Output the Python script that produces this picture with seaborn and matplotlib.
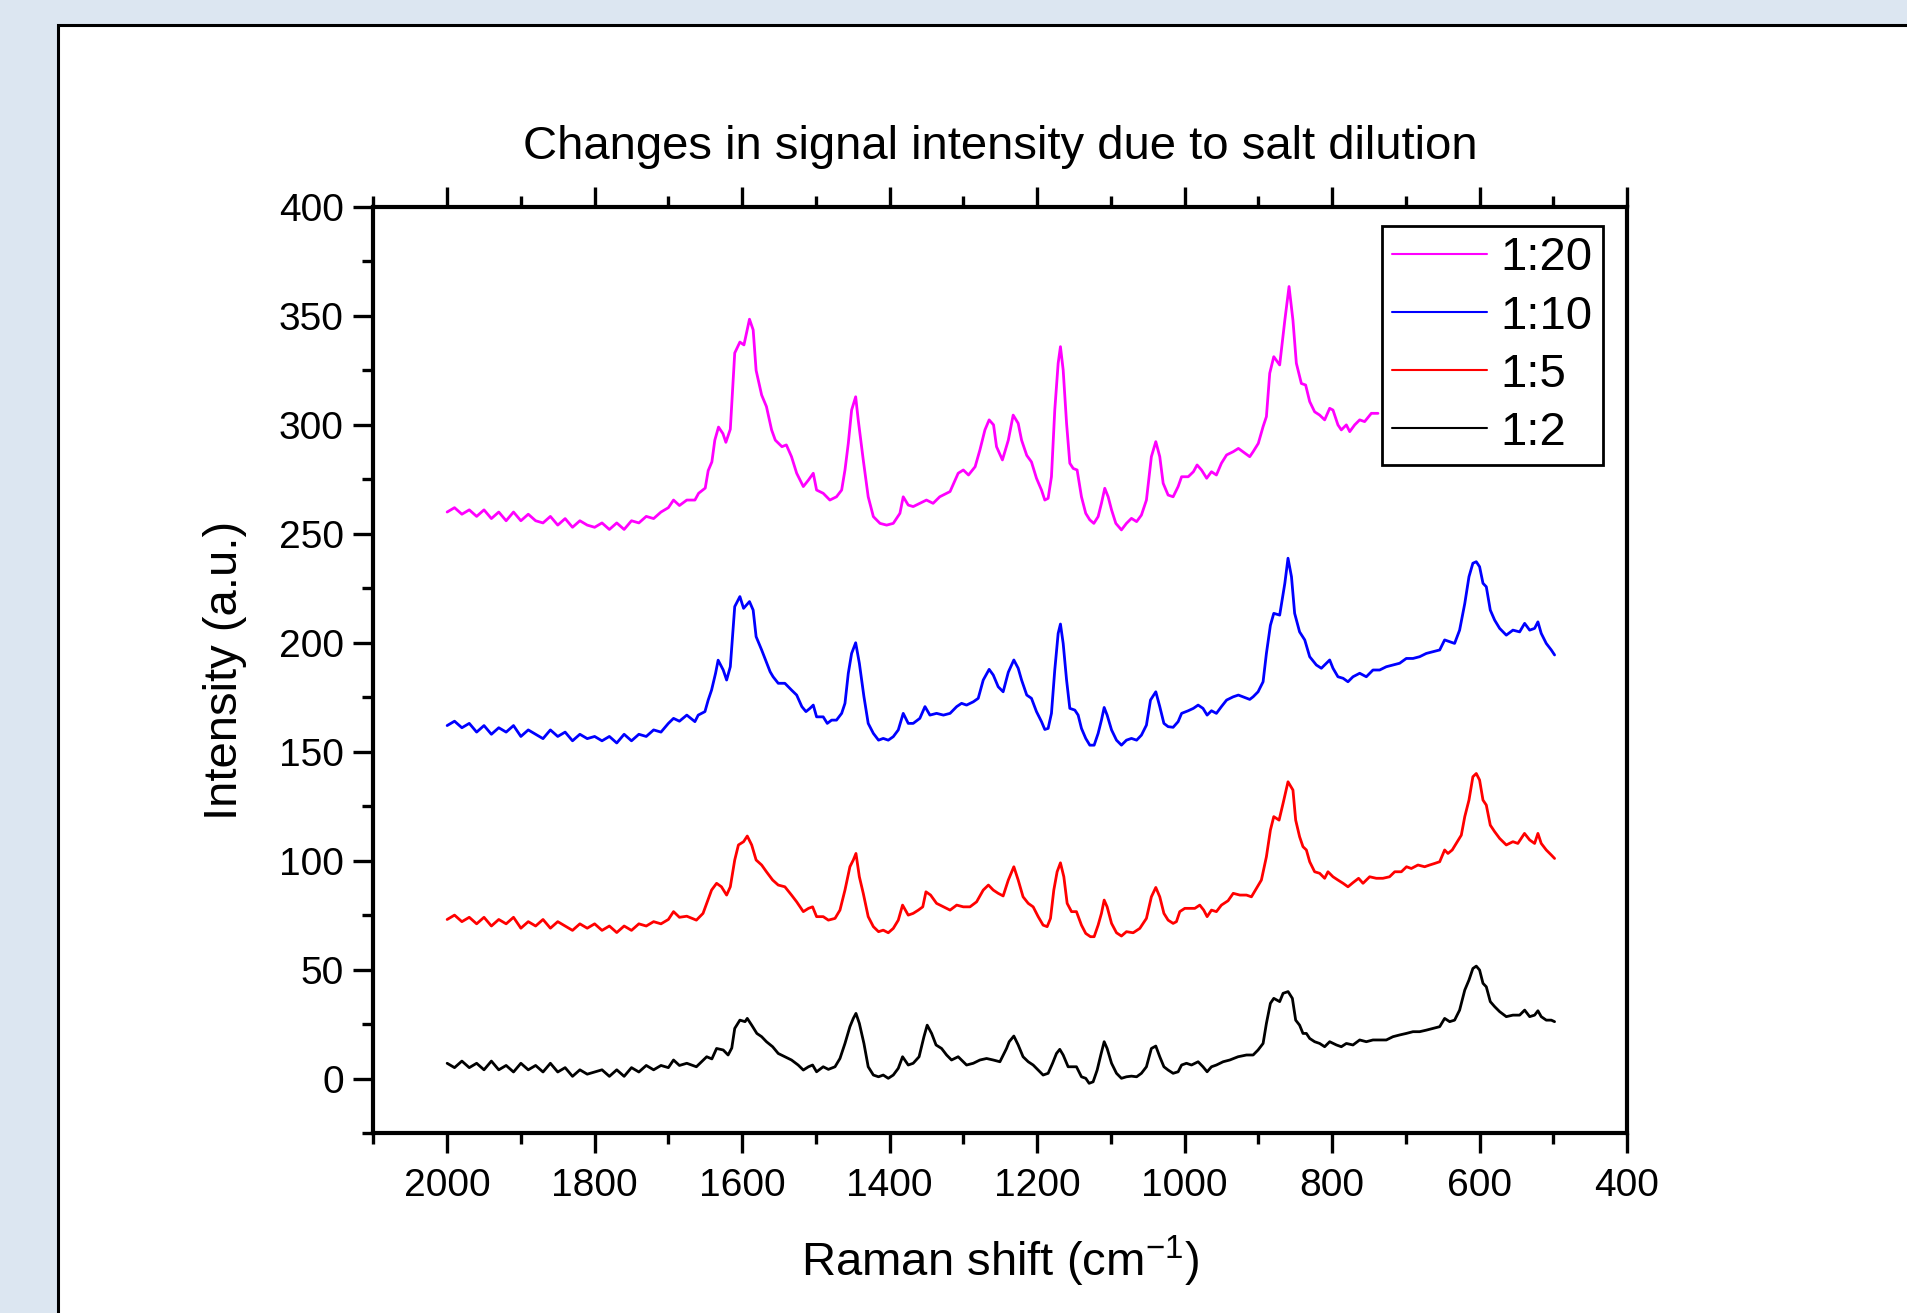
import numpy as np
import pandas as pd
import matplotlib
matplotlib.use('Agg')
import matplotlib.pyplot as plt
from matplotlib.patches import Rectangle
from matplotlib.ticker import MultipleLocator
import seaborn as sns

# Raman spectra: shift in cm-1, intensity in a.u.
base_shift = [2000, 1990, 1980, 1970, 1960, 1950, 1940, 1930, 1920, 1910, 1900,
              1890, 1880, 1870, 1860, 1850, 1840, 1830, 1820, 1810, 1800,
              1790, 1780, 1770, 1760, 1750, 1740, 1730, 1720, 1710, 1700]

shift_20 = base_shift + [
    1693, 1685, 1675, 1664, 1659, 1650, 1646, 1641, 1637, 1632, 1626, 1622, 1616, 1610, 1603,
    1597.5, 1590, 1585, 1581, 1573.5, 1567, 1560, 1555, 1546, 1540, 1533, 1526, 1517, 1510,
    1503.5, 1499, 1490, 1481, 1472, 1465, 1460.5, 1456, 1451.5, 1446, 1442.5, 1435.7, 1429,
    1422, 1413, 1404, 1395, 1386, 1381.5, 1374.7, 1368, 1359, 1350, 1341, 1332, 1318, 1307,
    1300, 1293, 1284, 1277.5, 1270.7, 1265, 1259, 1255, 1247, 1239, 1232.4, 1225.6, 1221,
    1214, 1207.6, 1200.8, 1194, 1189.5, 1185, 1180.5, 1176, 1171.4, 1168.3, 1164.6, 1160,
    1155.6, 1151, 1145.7, 1139.8, 1134, 1128.5, 1123, 1117.2, 1112.7, 1108.2, 1103.6, 1099,
    1093.2, 1085.6, 1078.8, 1072, 1065, 1058.5, 1051.7, 1045, 1039, 1033.6, 1029, 1022.3,
    1015.5, 1008.7, 1004, 995, 988, 983, 977, 970, 963.5, 956.8, 950, 943, 934, 927, 918,
    911.6, 907, 900, 893.5, 889, 884.5, 879, 871, 864, 858.3, 853, 848.4, 841.6, 835.8,
    830.3, 823.6, 816.8, 810, 803.2, 798.7, 792, 787.4, 780.6, 776, 769.3, 762.5, 755.8,
    746.7, 737.7]
int_20 = [260, 262, 259, 261, 258, 261, 257, 260, 256, 260, 256,
          259, 256, 255, 258, 254, 257, 253, 256, 254, 253,
          255, 252, 255, 252, 256, 255, 258, 257, 260, 262] + [
    265.5, 263, 265.5, 265.5, 268.6, 271, 279, 283, 293, 299, 296, 292, 298, 333, 338,
    336.7, 348.5, 343.6, 325, 313.7, 308.4, 297.7, 293, 290, 290.8, 285.4, 277.8, 271.7, 274.7,
    277.8, 270.1, 268.6, 265.5, 267, 270.1, 279.3, 291.5, 306.8, 312.9, 302.2, 283.9, 267,
    257.9, 254.8, 254, 254.8, 259.4, 267, 263.2, 262.5, 264, 265.5, 264, 267, 269.4, 277.8,
    279.3, 277, 280.8, 288.5, 297.7, 302.3, 300, 290, 283.9, 293, 304.5, 300.7, 293,
    286, 283, 275.5, 270.1, 265.5, 266.3, 276.2, 306.8, 328.3, 335.9, 325.2, 300.7,
    282.4, 280, 279.3, 267, 259.4, 256.4, 254.8, 257.9, 264, 270.9, 267, 261,
    254.8, 251.8, 254.8, 257.1, 255.6, 258.6, 265.5, 285.4, 292.3, 285.4, 273.2, 267.8,
    267, 271.7, 276.2, 276.2, 278.5, 281.6, 279.3, 275.5, 278.5, 277, 282.4, 286.2, 287.7, 289.2, 287,
    285.4, 287.7, 291.5, 299.2, 303.8, 323.7, 331.3, 327.5, 348.1, 363.5, 348, 328.3, 319, 318.3,
    310.7, 306, 304.5, 302.3, 307.6, 306.8, 300, 297.7, 300, 296.9, 300, 302.3, 301.5,
    305.3, 305.3]

shift_10 = base_shift + [
    1693, 1685, 1675, 1664, 1659.5, 1650.4, 1646, 1641.4, 1636, 1632.5, 1625.6, 1621, 1616,
    1610, 1603, 1598, 1590, 1585, 1581, 1573.5, 1569, 1562, 1558, 1551, 1542, 1533, 1526,
    1519, 1513.4, 1508, 1503.5, 1499, 1490, 1484.5, 1478.6, 1472, 1465, 1460.5, 1456, 1451.5,
    1446, 1441, 1434.8, 1429, 1422, 1415, 1408.6, 1401.8, 1395, 1388.2, 1381.5, 1374.7, 1368,
    1359, 1352, 1345.3, 1336.3, 1327, 1318, 1309, 1302.4, 1295.6, 1286.5, 1279.8, 1273, 1265,
    1259.4, 1252.7, 1246, 1239, 1231.5, 1225.6, 1221, 1214, 1207.6, 1200.8, 1194, 1189.5, 1185,
    1180.5, 1176, 1171.4, 1168.3, 1164.6, 1160, 1155.6, 1148.8, 1144.3, 1139.8, 1134, 1128.5,
    1122.6, 1117.2, 1112.7, 1109, 1105, 1099, 1092.3, 1085.6, 1078.8, 1072, 1065, 1058.5,
    1051.7, 1046.2, 1039, 1033.6, 1028, 1022.3, 1015.5, 1008.7, 1004, 995, 988, 981.6, 975,
    969.4, 963.5, 956.8, 950, 943, 934, 927, 918.4, 911.6, 907, 900.3, 893.5, 889, 883.6, 879,
    871, 864, 859.7, 855, 850.7, 844, 837, 830.3, 821.3, 814.5, 807.7, 803.2, 798.7, 792, 785,
    778.4, 771.6, 762.5, 753.5, 744.5, 735.4, 726.4, 717.4, 708.3, 699.3, 690.2, 681.2, 672.2,
    663.1, 654, 647.3, 640.5, 633.8, 627, 620, 614.3, 609, 604.4, 599.9, 595.3, 590.8, 585.4,
    579.5, 572.7, 563.7, 554.7, 545.6, 538.8, 532, 525.3, 520.8, 516.3, 509.5, 502.7, 498.2]
int_10 = [162, 164, 161, 163, 159, 162, 158, 161, 159, 162, 157,
          160, 158, 156, 160, 157, 159, 155, 158, 156, 157,
          155, 157, 154, 158, 155, 158, 157, 160, 159, 163] + [
    165.3, 164, 166.8, 163.8, 166.8, 168.4, 173.7, 178.3, 186, 192, 187.5, 182.9, 189,
    216.6, 221.2, 215.8, 218.9, 215, 202.8, 196.7, 192.8, 186.7, 184.4, 181.4, 181.4, 178.3, 176,
    170.7, 168.4, 169.9, 171.4, 166, 166, 163, 164.5, 164.5, 167.6, 172.2, 186, 195.1,
    200, 190.6, 175.3, 163, 158.4, 155.3, 156.1, 155.3, 156.9, 160, 167.6, 163, 163,
    165.3, 170.7, 166.8, 167.6, 166.8, 167.6, 170.7, 172.2, 171.4, 172.9, 174.5, 182.9, 187.8,
    185.2, 179.8, 177.5, 186.5, 192.1, 188.3, 182.9, 176, 174.5, 168.4, 163.8, 160.2, 160.7,
    167.6, 187.5, 204.3, 208.6, 199.7, 182.9, 169.9, 169.1, 166.8, 160.7, 156.1, 153,
    153, 158.4, 164.5, 170.3, 166.8, 160, 155.3, 153, 155.3, 156.1, 155.3, 157.6,
    162.2, 173.7, 177.5, 170.7, 163, 161.5, 161.2, 163.8, 167.6, 168.8, 169.9, 171.4, 169.9,
    166.8, 168.8, 167.6, 170.7, 173.7, 175.2, 176, 174.9, 174, 175.2, 177.5, 182.1, 195.1, 208, 213.5,
    212.7, 227.3, 238.8, 230.3, 213.5, 205, 201.3, 193.6, 189.8, 188.3, 190.6, 192.1, 188.3, 184.4, 183.7,
    182.1, 184.4, 186, 184.4, 187.5, 187.5, 189, 189.8, 190.6, 192.8, 192.8, 193.6, 195.1,
    195.9, 196.7, 201.3, 200.5, 199.7, 205.8, 218, 230.3, 236.5, 237.2, 234.9, 227.3, 225.7, 215,
    210.4, 206.6, 203.5, 205.8, 205, 208.9, 205.8, 206.6, 209.6, 204.3, 199.7, 196.7, 194.4]

shift_5 = base_shift + [
    1693, 1685, 1675, 1662, 1653, 1648, 1641.4, 1634.6, 1628, 1621, 1616, 1610, 1605, 1598,
    1593, 1587, 1581, 1573.5, 1567, 1558.6, 1551, 1542, 1533, 1526, 1517, 1510, 1504.4, 1499,
    1490, 1483, 1474, 1467.3, 1460.5, 1453.8, 1449.2, 1445.6, 1441, 1435.7, 1429, 1422, 1415,
    1408.6, 1401.8, 1395, 1388.2, 1382.4, 1374.7, 1368, 1361, 1355, 1350.7, 1344.4, 1336.3,
    1327, 1318, 1309, 1300, 1291, 1282, 1273, 1266, 1259.4, 1252.7, 1246, 1239, 1231.5, 1225.6,
    1219, 1212, 1205.3, 1198.5, 1191.8, 1186.3, 1181.8, 1177.3, 1172.8, 1168.3, 1163.7, 1159.2,
    1153.3, 1146.6, 1139.8, 1134, 1127.6, 1122.6, 1117.2, 1112.7, 1109, 1105, 1099, 1092.3,
    1085.6, 1078.8, 1069.7, 1060.7, 1051.7, 1045, 1039, 1033.6, 1028, 1022.3, 1015.5, 1011,
    1006.5, 999.7, 993, 986.1, 979.4, 974, 969.4, 963.5, 956.8, 950, 941, 934, 925, 916, 909.3,
    902.5, 895.8, 889, 883.6, 879, 871.8, 866.4, 859.7, 853, 849.3, 844, 839.4, 834.8, 830.3,
    823.6, 816.8, 810, 805.5, 798.7, 792, 785, 778.4, 771.6, 764, 758, 749, 740, 731, 722, 715,
    706, 699, 692.5, 683.5, 674.4, 667.6, 661, 654, 647.3, 642.8, 637, 631.5, 624.7, 620, 614.3,
    609, 604.4, 599.9, 595.3, 590.8, 585.4, 579.5, 572.7, 563.7, 554.7, 548, 539, 532, 525.3,
    520.8, 516.3, 509.5, 502.7, 498.2]
int_5 = [73, 75, 72, 74, 71, 74, 70, 73, 71, 74, 69,
         72, 70, 73, 69, 72, 70, 68, 71, 69, 71,
         68, 70, 67, 70, 68, 71, 70, 72, 71, 73] + [
    76.6, 74, 74.5, 72.7, 75.8, 80.4, 86.5, 89.6, 88, 84.2, 88, 100.3, 107.2, 108.7,
    111.3, 107.2, 100.3, 98, 94.9, 91.1, 88.8, 88, 84.2, 81.1, 76.6, 78.1, 78.8, 74.3,
    74.3, 72.7, 73.5, 77.3, 86.5, 97.2, 100.3, 103.3, 92.6, 85, 74.3, 69.7, 67.4,
    68.1, 66.9, 68.9, 72.7, 79.6, 75, 75.8, 77.3, 78.8, 85.7, 84.2, 80.4,
    78.8, 77.3, 79.6, 78.8, 78.8, 81.1, 86.5, 88.8, 86.5, 85, 83.8, 91.1, 97.2, 91.1,
    83.4, 80.4, 78.8, 74.3, 70.4, 69.7, 73.5, 86.5, 94.9, 99, 92.6, 80.4,
    76.6, 76.6, 70.4, 66.6, 65.1, 65.1, 70.4, 75.8, 81.9, 78.8, 71.2, 66.9,
    65.4, 67.4, 66.9, 68.9, 73.5, 83.4, 87.7, 83.4, 75.8, 72.7, 71.2, 72,
    76.6, 78.1, 78.1, 78.1, 79.6, 77.3, 74.3, 77.3, 76.6, 79.6, 81.6, 85, 84.2, 84.2, 83.4,
    87.3, 91.1, 101.8, 114, 120.2, 118.6, 126.3, 136.2, 132.4, 118.6, 111, 106.4, 104.9, 99.5,
    94.9, 94.2, 91.9, 94.9, 92.6, 91.1, 89.6, 88, 89.9, 91.9, 89.6, 92.6, 91.9, 91.9, 92.6, 94.9,
    94.9, 97.2, 96.4, 98, 97.2, 98, 98.7, 99.5, 104.9, 103.3, 104.9, 107.9, 111.7, 120.2, 127.8,
    138.5, 140, 137, 127.8, 125.5, 116.3, 113.3, 110.2, 107.2, 108.7, 107.9, 112.5, 109.5, 107.9,
    112.5, 107.9, 104.9, 102.6, 101]

shift_2 = base_shift + [
    1693, 1685, 1675, 1662, 1648, 1641, 1634.6, 1625.6, 1619, 1614, 1610, 1603, 1596, 1593,
    1587, 1580, 1573.5, 1567, 1558.6, 1551, 1542, 1533, 1524, 1517, 1510, 1504.4, 1499, 1490,
    1483, 1474, 1467.3, 1460.5, 1453.8, 1449.2, 1445.6, 1441, 1434.8, 1429, 1422, 1415, 1408.6,
    1401.8, 1395, 1388.2, 1382.4, 1374.7, 1368, 1360, 1353.4, 1349, 1343, 1337, 1329.5, 1322.7,
    1316, 1307, 1295.6, 1286.5, 1277.5, 1268.5, 1259.4, 1250.4, 1241.4, 1237.8, 1231.5, 1225.6,
    1219, 1212, 1205.3, 1198.5, 1191.8, 1185, 1179, 1173.7, 1169.2, 1164.6, 1157.9, 1151,
    1146.6, 1139.8, 1134, 1129.4, 1124, 1118.5, 1113.6, 1109, 1105, 1099, 1092.3, 1085.6,
    1078.8, 1072, 1065, 1058.5, 1051.7, 1045, 1039, 1033.6, 1028, 1022.3, 1015.5, 1008.7, 1004,
    997.4, 990.6, 981.6, 975, 969.4, 963.5, 956.8, 947.7, 938.7, 927.4, 916, 907, 900.3, 893.5,
    889, 883.6, 879, 871, 866.4, 859.6, 853.8, 849.3, 844, 839.4, 834.8, 830.3, 823.6, 816.8,
    810, 803.2, 794, 787.4, 780.6, 771.6, 762.5, 753.5, 744.5, 735.4, 726.4, 717.4, 708.3,
    699.3, 690.2, 681.2, 672.2, 663.1, 654, 647.3, 640.5, 633.8, 627, 620, 614.3, 609, 604.4,
    599.9, 595.3, 590.8, 585.4, 579.5, 572.7, 563.7, 554.7, 545.6, 538.8, 532, 525.3, 520.8,
    516.3, 509.5, 502.7, 498.2]
int_2 = [7, 5, 8, 5, 7, 4, 8, 4, 6, 3, 7,
         4, 6, 3, 7, 3, 5, 1, 4, 2, 3,
         4, 1, 4, 1, 5, 3, 6, 4, 6, 5] + [
    8.5, 6, 7, 5.4, 10, 9, 13.8, 13.1, 10.8, 14, 23, 26.8, 26.1, 27.6,
    24.5, 20.7, 19.2, 16.9, 14.6, 11.5, 10, 8.5, 6.2, 3.9, 5.4, 6.2, 3.1, 5.4,
    4.2, 5.4, 9.2, 16.1, 23.8, 27.6, 29.9, 25.3, 16.1, 5.4, 1.6, 0.8, 1.6,
    0.1, 1.6, 4.7, 10, 6.2, 7, 10, 19.2, 24.5, 20.7, 15.4, 13.8, 10.8,
    8.5, 10, 6.2, 7, 8.5, 9.2, 8.5, 7.7, 13.8, 16.9, 19.5, 15.4,
    10, 7.7, 6.2, 3.9, 1.6, 2.4, 7, 11.5, 13.4, 10.8, 5.4, 5.4,
    5.4, 0.8, 0.1, -2.2, -1.5, 3.9, 10.8, 16.9, 13.8, 7, 2.4, 0.1,
    0.8, 1.1, 0.8, 2.4, 5.4, 13.8, 14.9, 10, 5.4, 3.9, 2.4, 3.1, 6.2,
    7, 6.2, 7.7, 5.4, 3.1, 5.4, 6.2, 7.7, 8.5, 10, 10.8, 10.8, 13.1, 16.1,
    25.3, 34.5, 36.8, 35.3, 39.1, 39.9, 36.8, 26.8, 24.5, 20.7, 20.7, 18.4, 16.9, 16.1,
    14.6, 16.9, 15.4, 14.6, 16.1, 15.4, 17.7, 16.9, 17.7, 17.7, 17.7, 19.2, 20,
    20.7, 21.5, 21.5, 22.2, 23, 23.8, 27.6, 26.1, 26.8, 31.4, 40.6, 45.2, 50.5, 51.6,
    49.8, 43.7, 42.1, 35.3, 33, 30.7, 28.4, 29.1, 29.1, 31.4, 28.4, 29.1, 31.1,
    28.4, 26.8, 26.8, 26.1]

dilutions = ["1:20", "1:10", "1:5", "1:2"]
line_colors = ["#ff00ff", "#0000ff", "#ff0000", "#000000"]

frames = []
for lab, xs, ys in zip(dilutions, [shift_20, shift_10, shift_5, shift_2],
                       [int_20, int_10, int_5, int_2]):
    frames.append(pd.DataFrame({"shift": xs, "intensity": ys, "dilution": lab}))
df = pd.concat(frames, ignore_index=True)

sns.set_style("ticks")
plt.rcParams['font.family'] = ['Liberation Sans', 'DejaVu Sans']
plt.rcParams['mathtext.fontset'] = 'custom'
plt.rcParams['mathtext.rm'] = 'Liberation Sans'
plt.rcParams['mathtext.default'] = 'regular'
plt.rcParams['text.color'] = 'black'

W, H = 1907, 1313
fig = plt.figure(figsize=(W / 100, H / 100), dpi=100, facecolor="#dce6f1")
# white page with a black border, running off the right and bottom edges
fig.add_artist(Rectangle((58 / W, -0.05), 1.1, 1.05 - 25 / H, transform=fig.transFigure,
                         facecolor="white", edgecolor="black", lw=2.2, zorder=-10))

ax = fig.add_axes([373.4 / W, 1 - 1133 / H, (1627 - 373.4) / W, (1133 - 207) / H])
ax.set_facecolor("white")

sns.lineplot(data=df, x="shift", y="intensity", hue="dilution", hue_order=dilutions,
             palette=line_colors, estimator=None, sort=False, linewidth=2.0, ax=ax)

ax.set_xlim(2100, 400)
ax.set_ylim(-25, 400)
ax.xaxis.set_major_locator(MultipleLocator(200))
ax.xaxis.set_minor_locator(MultipleLocator(100))
ax.yaxis.set_major_locator(MultipleLocator(50))
ax.yaxis.set_minor_locator(MultipleLocator(25))
ax.set_xlabel("")
ax.set_ylabel("")

for s in ax.spines.values():
    s.set_linewidth(3.0)
    s.set_color("black")
ax.tick_params(axis="x", which="both", direction="out", top=True, bottom=True,
               labeltop=False, width=2.4, labelsize=28, pad=10.5, colors="black")
ax.tick_params(axis="y", which="both", direction="out", left=True, right=False,
               width=2.4, labelsize=28, pad=7, colors="black")
ax.tick_params(which="major", length=14.4)
ax.tick_params(which="minor", length=8)

sns.move_legend(ax, "upper right", bbox_to_anchor=(0.981, 0.9795), borderaxespad=0,
                title=None, frameon=True, fancybox=False, framealpha=1, fontsize=34,
                handlelength=2.0, handletextpad=0.3, borderpad=0.22, labelspacing=0.3)
leg = ax.get_legend()
leg.get_frame().set_edgecolor("black")
leg.get_frame().set_linewidth(2.0)
for h in leg.legend_handles:
    h.set_linewidth(1.5)

fig.text(1000 / W, 1 - 159 / H, "Changes in signal intensity due to salt dilution",
         ha="center", va="baseline", fontsize=34)
fig.text(1000 / W, 1 - 1276 / H, "Raman shift (cm$^{-1}$)",
         ha="center", va="baseline", fontsize=34)
fig.text(225 / W, 1 - 670 / H, "Intensity (a.u.)", rotation=90,
         ha="center", va="center", fontsize=34)

fig.savefig("out.png", dpi=100, facecolor=fig.get_facecolor())
